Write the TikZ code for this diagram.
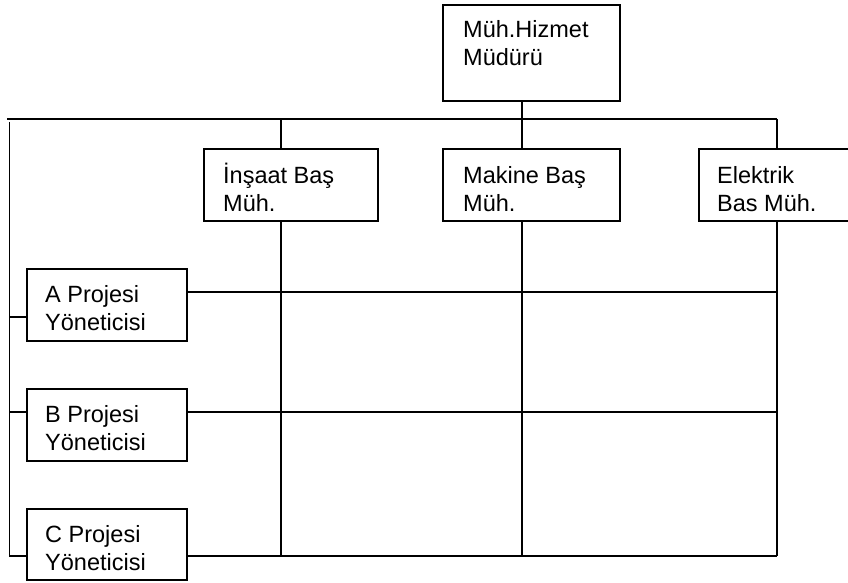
\documentclass[tikz,border=0pt]{standalone}
\usepackage{fontspec}
\setmainfont{Liberation Sans}
\usetikzlibrary{calc}
\begin{document}
\begin{tikzpicture}[x=1pt,y=-1pt,
  orgbox/.style={draw, line width=1.9pt, rectangle, inner sep=0pt, anchor=north west},
  rowbox/.style={orgbox, minimum width=174pt, minimum height=72pt},
  pmbox/.style={orgbox, minimum width=160pt, minimum height=72pt},
  boxtext/.style={anchor=base west, inner sep=0pt, font=\fontsize{23.5}{28}\selectfont},
  link/.style={line width=1.7pt}]
\useasboundingbox (0,0) rectangle (848,583);

% director
\node[orgbox, minimum width=177pt, minimum height=96pt] (mgr) at (442,4) {};
\node[boxtext] (mgrt) at ($(mgr.north west)+(21,34)$) {\parbox[t]{160pt}{\raggedright Müh.Hizmet\\Müdürü}};

% chief engineers
\node[rowbox] (ins) at (203,148) {};
\node[boxtext] (inst) at ($(ins.north west)+(20,35)$) {\parbox[t]{160pt}{\raggedright İnşaat Baş\\Müh.}};
\node[orgbox, minimum width=177pt, minimum height=72pt] (mak) at (442,148) {};
\node[boxtext] (makt) at ($(mak.north west)+(21,35)$) {\parbox[t]{160pt}{\raggedright Makine Baş\\Müh.}};
\node[orgbox, minimum width=150pt, minimum height=72pt] (elk) at (698,148) {};
\node[boxtext] (elkt) at ($(elk.north west)+(19,35)$) {\parbox[t]{140pt}{\raggedright Elektrik\\Bas Müh.}};

% project managers
\node[pmbox] (pa) at (26,268) {};
\node[boxtext] (pat) at ($(pa.north west)+(19,34.5)$) {\parbox[t]{140pt}{\raggedright A Projesi\\Yöneticisi}};
\node[pmbox] (pb) at (26,388) {};
\node[boxtext] (pbt) at ($(pb.north west)+(19,34.5)$) {\parbox[t]{140pt}{\raggedright B Projesi\\Yöneticisi}};
\node[pmbox, minimum height=71pt] (pc) at (26,508) {};
\node[boxtext] (pct) at ($(pc.north west)+(19,34.5)$) {\parbox[t]{140pt}{\raggedright C Projesi\\Yöneticisi}};

% bus and column positions
\coordinate (busL) at (7,119);
\coordinate (colA) at (281,119);
\coordinate (colB) at (522,119);
\coordinate (colC) at (777,119);
\coordinate (spineTop) at (9.5,122);
\coordinate (rowC) at (9.5,556);

\draw[link] (busL) -- (colC);
\draw[link] (colB |- mgr.south) -- (colB |- mak.north);
\draw[link] (colA) -- (colA |- ins.north);
\draw[link] (colC) -- (colC |- elk.north);

% columns of the matrix
\draw[link] (colA |- ins.south) -- (colA |- rowC);
\draw[link] (colB |- mak.south) -- (colB |- rowC);
\draw[link] (colC |- elk.south) -- (colC |- rowC);

% left spine with ticks to the project managers
\draw[link] (spineTop) -- (rowC) -- (rowC -| pc.west);
\draw[link] ($(pa.north west)+(-16.5,49)$) -- ($(pa.north west)+(0,49)$);
\draw[link] ($(pb.north west)+(-16.5,24)$) -- ($(pb.north west)+(0,24)$);

% rows of the matrix
\draw[link] ($(pa.north east)+(0,24)$) coordinate (ra) -- (colC |- ra);
\draw[link] ($(pb.north east)+(0,24)$) coordinate (rb) -- (colC |- rb);
\draw[link] (rowC -| pc.east) -- (colC |- rowC);
\end{tikzpicture}
\end{document}
